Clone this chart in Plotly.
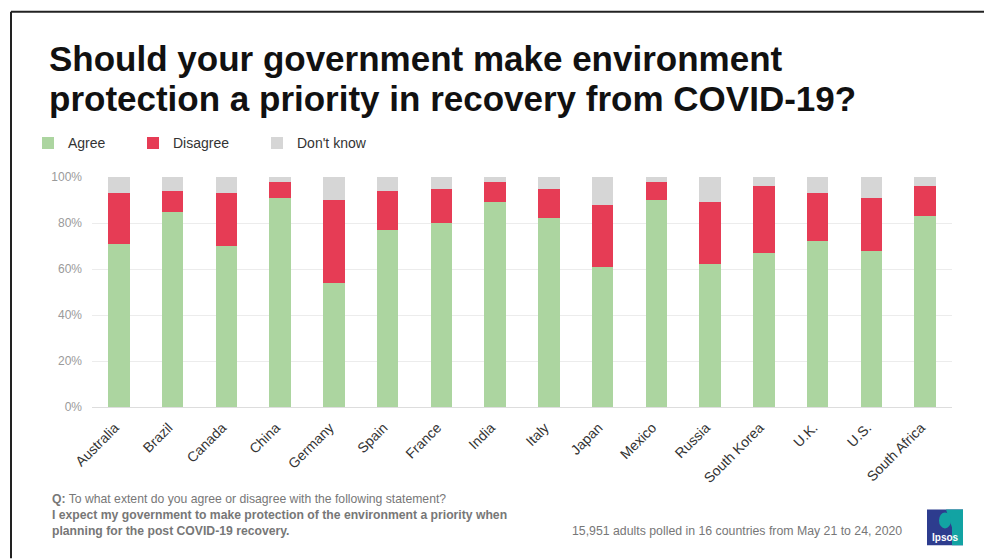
import plotly.graph_objects as go

countries = ["Australia", "Brazil", "Canada", "China", "Germany", "Spain", "France", "India",
             "Italy", "Japan", "Mexico", "Russia", "South Korea", "U.K.", "U.S.", "South Africa"]
agree = [71, 85, 70, 91, 54, 77, 80, 89, 82, 61, 90, 62, 67, 72, 68, 83]
disagree = [22, 9, 23, 7, 36, 17, 15, 9, 13, 27, 8, 27, 29, 21, 23, 13]
dont_know = [7, 6, 7, 2, 10, 6, 5, 2, 5, 12, 2, 11, 4, 7, 9, 4]

W, H = 984, 559
L, R = 92, 952          # plot area in px
T, B = 176.7, 407.3

FONT = "Liberation Sans, Arial, sans-serif"


def px(x):
    return (x - L) / (R - L)


def py(y):
    return (B - y) / (B - T)


fig = go.Figure()
series = [("Agree", agree, "#acd5a0", "legend"),
          ("Disagree", disagree, "#e63c55", "legend2"),
          ("Don't know", dont_know, "#d6d6d6", "legend3")]
for name, vals, col, lg in series:
    fig.add_trace(go.Bar(x=countries, y=vals, name=name, marker=dict(color=col, line=dict(width=0)),
                         legend=lg, showlegend=True,
                         hovertemplate="%{x}: %{y}%<extra>" + name + "</extra>"))

legfont = dict(family=FONT, size=14, color="#333333")
leg_common = dict(orientation="h", xanchor="left", yanchor="middle", font=legfont,
                  bgcolor="rgba(0,0,0,0)", borderwidth=0, itemwidth=30, visible=True)


def note(text, x, y, anchor="left", size=12.2, color="#777777"):
    return dict(text=text, x=px(x), y=py(y), xanchor=anchor, yanchor="middle", showarrow=False,
                xref="paper", yref="paper", borderpad=0,
                font=dict(family=FONT, size=size, color=color))


annotations = [
    note("<b>Should your government make environment</b>", 48, 57.5, size=35, color="#111111"),
    note("<b>protection a priority in recovery from COVID-19?</b>", 48, 98, size=35, color="#111111"),
    note("<b>Q:</b> To what extent do you agree or disagree with the following statement?", 51, 500),
    note("<b>I expect my government to make protection of the environment a priority when</b>", 51, 516),
    note("<b>planning for the post COVID-19 recovery.</b>", 51, 531.5),
    note("15,951 adults polled in 16 countries from May 21 to 24, 2020", 903, 531.5, anchor="right",
         size=12.3),
    note("<b>Ipsos</b>", 945, 538, anchor="center", size=10, color="#ffffff"),
]

shapes = [
    # frame
    dict(type="line", xref="paper", yref="paper", x0=px(11), x1=px(984), y0=py(11), y1=py(11),
         line=dict(color="#222222", width=2)),
    dict(type="line", xref="paper", yref="paper", x0=px(11), x1=px(11), y0=py(11), y1=py(559),
         line=dict(color="#222222", width=2)),
    # Ipsos logo
    dict(type="rect", xref="paper", yref="paper", x0=px(927), x1=px(963), y0=py(510), y1=py(546),
         fillcolor="#2d3c8e", line=dict(width=0)),
    dict(type="path", xref="paper", yref="paper",
         path=f"M {px(946)},{py(510)} L {px(963)},{py(510)} L {px(963)},{py(546)} L {px(952)},{py(546)} "
              f"L {px(952)},{py(528)} Z",
         fillcolor="#12a3a3", line=dict(width=0)),
    dict(type="circle", xref="paper", yref="paper", x0=px(939), x1=px(951), y0=py(513), y1=py(529),
         fillcolor="#12a3a3", line=dict(width=0)),
]

fig.update_layout(
    width=W, height=H,
    margin=dict(l=L, r=W - R, t=T, b=H - B, pad=0),
    paper_bgcolor="white", plot_bgcolor="white",
    barmode="stack", bargap=0.596,
    showlegend=True,
    font=dict(family=FONT, color="#444444"),
    legend=dict(leg_common, x=px(28), y=py(143)),
    legend2=dict(leg_common, x=px(133), y=py(143)),
    legend3=dict(leg_common, x=px(257), y=py(143)),
    annotations=annotations,
    shapes=shapes,
    xaxis=dict(tickangle=-45, tickfont=dict(size=14, color="#333333"), showline=True,
               linecolor="#dddddd", linewidth=1, showgrid=False, ticks="", fixedrange=True,
               ticklabelstandoff=6, ticklabelshift=-4),
    yaxis=dict(range=[0, 100], dtick=20, ticksuffix="%", tickfont=dict(size=12, color="#9a9a9a"),
               gridcolor="#ececec", gridwidth=1, zeroline=False, ticks="", ticklabelstandoff=9,
               fixedrange=True),
)

fig.write_html("out.html", config={"displayModeBar": False},
               post_script="document.body.style.margin='0px';")
